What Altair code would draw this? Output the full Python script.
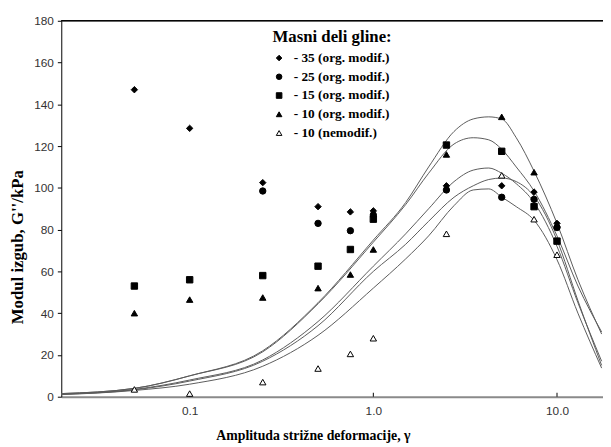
import altair as alt
import pandas as pd

# ---- data ----
x_pts = [0.05, 0.1, 0.25, 0.5, 0.75, 1.0, 2.5, 5.0, 7.5, 10.0]
series_names = ["- 35 (org. modif.)", "- 25 (org. modif.)", "- 15 (org. modif.)",
                "- 10 (org. modif.)", "- 10 (nemodif.)"]
s35 = [147, 128.5, 102.5, 91, 88.5, 89, 101, 101, 98, 83]
s25 = [None, None, 98.5, 83, 79.5, 87, 99, 95.5, 94.5, 81]
s15 = [53, 56, 58, 62.5, 70.5, 85, 120.5, 117.5, 91, 74.5]
s10 = [40, 46.5, 47.5, 52, 58.5, 70.5, 116, 134, 107.5, 82.5]
s10n = [3.5, 1.5, 7, 13.5, 20.5, 28, 78, 106, 85, 68]

# fitted curves (read at these strain amplitudes)
cx = [0.02, 0.05, 0.1, 0.25, 0.5, 1.0, 1.5, 2.0, 2.75, 3.5, 4.25, 5.0, 6.0, 7.5, 10.0, 13.0, 17.5]
curve_a = [1.5, 4, 10, 22, 45, 75, 93, 110, 127, 133, 134, 133, 124, 108, 83, 56, 30]
curve_b = [1.5, 4, 10, 21.5, 44.5, 74, 92, 107, 121, 124, 123, 118.5, 110, 98.5, 77, 53, 31]
curve_c = [1.3, 3.5, 8, 17.6, 36, 62.5, 78, 90, 103, 108.5, 109.5, 107, 102, 93, 72, 45, 17]
curve_d = [1.2, 3.3, 7.5, 17, 34, 60, 73, 84, 95.5, 101, 104, 104.7, 103, 96, 75, 46, 15]
curve_e = [1.0, 3, 6, 14.6, 29.4, 52, 66, 77, 91.5, 99, 99.5, 95.6, 91, 84.5, 65.6, 40, 13.7]

x_ticks = [0.1, 1.0, 10.0]

# ---- tables ----
rows = []
for name, vals in zip(series_names, [s35, s25, s15, s10, s10n]):
    for xv, yv in zip(x_pts, vals):
        if yv is not None:
            rows.append({"x": xv, "y": yv, "series": name})
df_pts = pd.DataFrame(rows)

crows = []
for cname, vals in zip(["a", "b", "c", "d", "e"], [curve_a, curve_b, curve_c, curve_d, curve_e]):
    for xv, yv in zip(cx, vals):
        crows.append({"x": xv, "y": yv, "curve": cname})
df_curves = pd.DataFrame(crows)

df_ticks = pd.DataFrame({"x": x_ticks})

W, H = 549, 381
xscale = alt.Scale(type="log", domain=[0.02, 17.8])
yscale = alt.Scale(domain=[0, 180])

x_axis = alt.Axis(
    values=x_ticks, format=".1f", grid=False, ticks=False,
    domainColor="#8a8a8a", domainWidth=2,
    labelFont="Liberation Sans", labelFontSize=12, labelColor="#333333", labelPadding=9,
    title="Amplituda strižne deformacije, γ",
    titleFont="Liberation Serif", titleFontSize=14, titleFontWeight="bold", titleColor="black",
    titleX=255, titleY=43, titleAlign="center", titleBaseline="alphabetic",
)
y_axis = alt.Axis(
    values=list(range(0, 181, 20)), grid=False, tickSize=4, tickColor="black",
    domainColor="black", domainWidth=1,
    labelFont="Liberation Sans", labelFontSize=12, labelColor="#333333", labelPadding=4,
    title="Modul izgub, G''/kPa",
    titleFont="Liberation Serif", titleFontSize=17, titleFontWeight="bold", titleColor="black",
    titleX=-35, titleY=229, titleAlign="center", titleBaseline="bottom", titleAngle=270,
)

curves = alt.Chart(df_curves).mark_line(
    interpolate="monotone", color="#5a5a5a", strokeWidth=1
).encode(
    x=alt.X("x:Q", scale=xscale, axis=x_axis),
    y=alt.Y("y:Q", scale=yscale, axis=y_axis),
    detail="curve:N",
)

legend = alt.Legend(
    title="Masni deli gline:", orient="none", legendX=214, legendY=8,
    titleFont="Liberation Serif", titleFontSize=17, titleFontWeight="bold", titleColor="black",
    titlePadding=6, titleAnchor="start", titleAlign="left",
    labelFont="Liberation Serif", labelFontSize=13.5, labelFontWeight="bold", labelColor="black",
    labelOffset=8, rowPadding=4, symbolSize=32,
    symbolStrokeColor="black", symbolStrokeWidth=1, padding=0,
)

points = alt.Chart(df_pts).mark_point(
    filled=True, size=42, strokeWidth=1, opacity=1
).encode(
    x=alt.X("x:Q", scale=xscale),
    y=alt.Y("y:Q", scale=yscale),
    shape=alt.Shape("series:N",
                    scale=alt.Scale(domain=series_names,
                                    range=["diamond", "circle", "square", "triangle-up", "triangle-up"]),
                    legend=legend),
    fill=alt.Fill("series:N",
                  scale=alt.Scale(domain=series_names,
                                  range=["black", "black", "black", "black", "white"]),
                  legend=legend),
    stroke=alt.Stroke("series:N",
                      scale=alt.Scale(domain=series_names,
                                      range=["black", "black", "black", "black", "black"]),
                      legend=legend),
)

xticks = alt.Chart(df_ticks).mark_rule(color="black", strokeWidth=1).encode(
    x=alt.X("x:Q", scale=xscale),
    y=alt.value(H - 4),
    y2=alt.value(H),
)

top_border = alt.Chart(df_ticks).mark_rule(color="black", strokeWidth=1).encode(
    x=alt.value(0), x2=alt.value(W), y=alt.value(0)
)

chart = alt.layer(curves, xticks, top_border, points).properties(
    width=W, height=H,
    padding={"left": 54, "top": 10, "right": 0, "bottom": 48},
    autosize="none",
    background="white",
).configure_view(stroke=None)

chart.save("out.html", embed_options={"renderer": "svg", "actions": False})
